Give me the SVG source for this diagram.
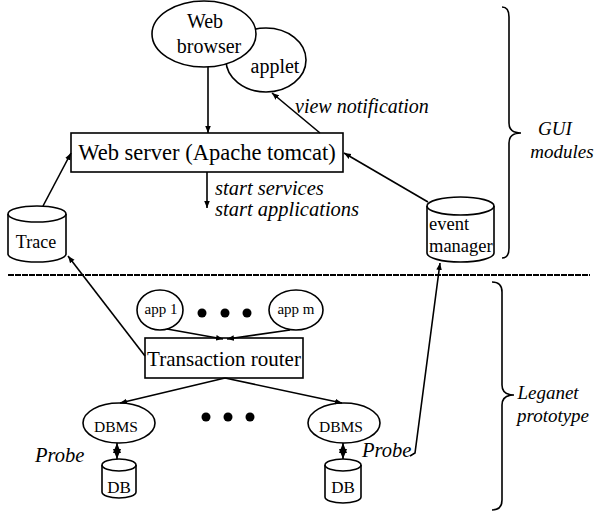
<svg xmlns="http://www.w3.org/2000/svg" width="597" height="512" viewBox="0 0 597 512">
<style>
  .shape { fill: #fff; stroke: #000; stroke-width: 1.6; }
  .line { fill: none; stroke: #000; stroke-width: 1.6; }
  text { font-family: "Liberation Serif", "Times New Roman", serif; fill: #000; }
  .it { font-style: italic; }
</style>
<defs>
  <marker id="arr" viewBox="0 0 10 10" refX="10" refY="5" markerWidth="7" markerHeight="7" markerUnits="userSpaceOnUse" orient="auto-start-reverse">
    <path d="M0,1 L10,5 L0,9 z" fill="#000"/>
  </marker>
  <marker id="arrb" viewBox="0 0 10 10" refX="10" refY="5" markerWidth="10" markerHeight="10" markerUnits="userSpaceOnUse" orient="auto-start-reverse">
    <path d="M0,1 L10,5 L0,9 z" fill="#000"/>
  </marker>
</defs>

<g id="applet">
  <ellipse class="shape" cx="266" cy="60" rx="40" ry="32"/>
  <text x="275" y="73" font-size="20" text-anchor="middle">applet</text>
</g>
<g id="web-browser">
  <ellipse class="shape" cx="204" cy="34" rx="52" ry="33"/>
  <text x="205" y="28" font-size="20" text-anchor="middle">Web</text>
  <text x="209" y="53" font-size="20" text-anchor="middle">browser</text>
</g>
<g id="web-server">
  <rect class="shape" x="71" y="133" width="272" height="39"/>
  <text x="207" y="160" font-size="22.5" text-anchor="middle">Web server (Apache tomcat)</text>
</g>
<g id="trace">
  <path class="shape" d="M8,214 A29,8 0 0 1 66,214 L66,254 A29,8 0 0 1 8,254 Z"/>
  <path class="line" d="M8,214 A29,8 0 0 0 66,214"/>
  <text x="36" y="248" font-size="18" text-anchor="middle">Trace</text>
</g>
<g id="event-manager">
  <path class="shape" d="M427,206 A33.5,9 0 0 1 494,206 L494,253 A33.5,9 0 0 1 427,253 Z"/>
  <path class="line" d="M427,206 A33.5,9 0 0 0 494,206"/>
  <text x="429" y="230" font-size="18.5">event</text>
  <text x="429" y="252" font-size="18.5">manager</text>
</g>
<g id="app1">
  <ellipse class="shape" cx="160" cy="310" rx="23" ry="20"/>
  <text x="161" y="314" font-size="15" text-anchor="middle">app 1</text>
</g>
<g id="dots-top">
  <circle cx="202" cy="313" r="4.5"/>
  <circle cx="225" cy="313" r="4.5"/>
  <circle cx="247" cy="313" r="4.5"/>
</g>
<g id="appm">
  <ellipse class="shape" cx="296" cy="310" rx="27" ry="20"/>
  <text x="296" y="314" font-size="15" text-anchor="middle">app m</text>
</g>
<g id="transaction-router">
  <rect class="shape" x="145" y="338" width="158" height="40"/>
  <text x="224" y="366" font-size="21" text-anchor="middle">Transaction router</text>
</g>
<g id="dbms1">
  <ellipse class="shape" cx="119" cy="423" rx="36" ry="20"/>
  <text x="116" y="432" font-size="15.5" text-anchor="middle">DBMS</text>
</g>
<g id="dots-bottom">
  <circle cx="206" cy="417" r="4.5"/>
  <circle cx="228" cy="417" r="4.5"/>
  <circle cx="250" cy="417" r="4.5"/>
</g>
<g id="dbms2">
  <ellipse class="shape" cx="344" cy="423" rx="36" ry="20"/>
  <text x="341" y="432" font-size="15.5" text-anchor="middle">DBMS</text>
</g>
<g id="db1">
  <path class="shape" d="M102,465 A17,6 0 0 1 136,465 L136,492 A17,6 0 0 1 102,492 Z"/>
  <path class="line" d="M102,465 A17,6 0 0 0 136,465"/>
  <text x="119" y="493" font-size="17" text-anchor="middle">DB</text>
</g>
<g id="db2">
  <path class="shape" d="M325,465 A18,6 0 0 1 361,465 L361,497 A18,6 0 0 1 325,497 Z"/>
  <path class="line" d="M325,465 A18,6 0 0 0 361,465"/>
  <text x="343" y="493" font-size="17" text-anchor="middle">DB</text>
</g>

<g id="connectors">
  <line class="line" x1="208" y1="67" x2="208" y2="133" marker-end="url(#arr)"/>
  <line class="line" x1="320" y1="133" x2="272" y2="93" marker-end="url(#arr)"/>
  <line class="line" x1="207" y1="172" x2="207" y2="208" marker-end="url(#arr)"/>
  <line class="line" x1="43" y1="206" x2="71" y2="153" marker-end="url(#arr)"/>
  <line class="line" x1="428" y1="202" x2="344" y2="153" marker-end="url(#arr)"/>
  <line class="line" x1="145" y1="356" x2="68" y2="256" marker-end="url(#arr)"/>
  <line class="line" x1="167" y1="329" x2="223" y2="339" marker-end="url(#arr)"/>
  <line class="line" x1="290" y1="330" x2="227" y2="339" marker-end="url(#arr)"/>
  <line class="line" x1="225" y1="378" x2="120" y2="403" marker-end="url(#arr)"/>
  <line class="line" x1="225" y1="378" x2="342" y2="403" marker-end="url(#arr)"/>
  <line class="line" x1="117" y1="443" x2="117" y2="459" marker-start="url(#arrb)" marker-end="url(#arrb)"/>
  <line class="line" x1="343" y1="443" x2="343" y2="459" marker-start="url(#arrb)" marker-end="url(#arrb)"/>
  <path class="line" d="M410,456 L415,453 L440,263" marker-end="url(#arr)"/>
</g>

<line x1="8" y1="275" x2="590" y2="275" stroke="#000" stroke-width="2.2" stroke-dasharray="6 1"/>

<g id="labels">
  <text class="it" x="295" y="113" font-size="20">view notification</text>
  <text class="it" x="215" y="195" font-size="20.5">start services</text>
  <text class="it" x="215" y="216" font-size="20.5">start applications</text>
  <text class="it" x="35" y="462" font-size="20.5">Probe</text>
  <text class="it" x="362" y="457" font-size="20.5">Probe</text>
</g>

<g id="gui-brace">
  <path class="line" d="M502,7 Q509,7 509,17 L509,123 Q509,133 521,133 Q509,133 509,143 L509,248 Q509,258 502,258"/>
  <text class="it" x="555" y="135" font-size="19" text-anchor="middle">GUI</text>
  <text class="it" x="562" y="158" font-size="19" text-anchor="middle">modules</text>
</g>
<g id="leganet-brace">
  <path class="line" d="M492,282 Q502,282 502,292 L502,385 Q502,395 514,395 Q502,395 502,405 L502,500 Q502,510 492,510"/>
  <text class="it" x="548" y="399" font-size="19" text-anchor="middle">Leganet</text>
  <text class="it" x="553" y="422" font-size="19" text-anchor="middle">prototype</text>
</g>
</svg>
